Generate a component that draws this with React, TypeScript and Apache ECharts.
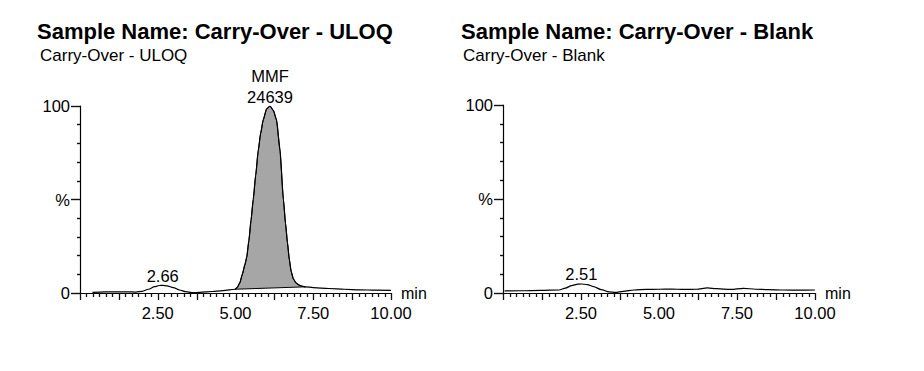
import React, { useEffect, useRef } from "react";
import * as echarts from "echarts";

// ---- data ----
const titles = ["Sample Name: Carry-Over - ULOQ", "Sample Name: Carry-Over - Blank"];
const subtitles = ["Carry-Over - ULOQ", "Carry-Over - Blank"];

// retention time (min), relative intensity (%)
const leftTrace: [number, number][] = [
  [0.4, 0.3], [0.8, 0.6], [1.2, 0.6], [1.5, 0.6], [1.8, 0.5], [2.0, 0.9],
  [2.2, 2.0], [2.4, 3.4], [2.55, 4.0], [2.66, 4.1], [2.8, 3.8], [3.0, 2.9],
  [3.2, 1.6], [3.4, 0.7], [3.6, 0.2], [3.85, 0.3], [4.25, 0.8], [4.6, 1.3],
  [4.98, 2.0], [5.06, 3.0], [5.14, 5.5], [5.22, 10], [5.3, 15], [5.36, 19],
  [5.43, 28], [5.5, 39], [5.57, 50], [5.65, 63], [5.73, 76], [5.81, 85.5],
  [5.89, 92.5], [6.0, 98.5], [6.11, 100], [6.22, 97.5], [6.32, 92.5],
  [6.43, 76.5], [6.54, 50], [6.61, 37], [6.67, 27], [6.73, 18], [6.79, 11.5],
  [6.86, 7.5], [6.95, 5.3], [7.05, 4.2], [7.15, 3.6], [7.25, 3.3], [7.5, 2.9],
  [8.0, 2.4], [8.5, 2.0], [9.0, 1.7], [9.5, 1.5], [10.0, 1.4],
];
const leftPeakWindow: [number, number] = [4.98, 7.25];

const rightTrace: [number, number][] = [
  [0.05, 1.1], [0.6, 1.2], [1.2, 1.4], [1.8, 1.6], [2.0, 2.6], [2.2, 3.9],
  [2.4, 4.7], [2.51, 4.8], [2.7, 4.5], [2.9, 3.4], [3.15, 1.8], [3.4, 0.6],
  [3.6, 0.3], [3.85, 0.9], [4.2, 1.6], [4.6, 1.9], [5.0, 2.0], [5.4, 2.1],
  [5.8, 1.9], [6.2, 2.0], [6.55, 2.7], [6.85, 2.3], [7.3, 1.9], [7.7, 2.5],
  [8.1, 2.0], [8.5, 1.8], [9.0, 1.6], [9.5, 1.5], [10.0, 1.6],
];

const leftPeakLabels = [
  { name: "2.66", t: 2.66, v: 4.1 },
  { name: "MMF\n24639", t: 6.11, v: 100 },
];
const rightPeakLabels = [{ name: "2.51", t: 2.51, v: 4.8 }];

const xMin = 0;
const xMax = 10;
const xMajorStep = 1.25;
const xMinorSplit = 6;
const xLabelValues = [2.5, 5, 7.5, 10];
const xLabelTexts = ["2.50", "5.00", "7.50", "10.00"];
const yLabelValues = [0, 50, 100];
const yLabelTexts = ["0", "%", "100"];
const xUnit = "min";

const FONT = "'Liberation Sans', Arial, Helvetica, sans-serif";

function xFormatter(v: number) {
  const i = xLabelValues.findIndex((x) => Math.abs(x - v) < 1e-6);
  return i >= 0 ? xLabelTexts[i] : "";
}
function yFormatter(v: number) {
  const i = yLabelValues.findIndex((x) => Math.abs(x - v) < 1e-6);
  return i >= 0 ? yLabelTexts[i] : "";
}

// tick positions of the x axis (axis geometry, from the axis settings above)
function buildXTicks(): [number, number][] {
  const n = Math.round((xMax - xMin) / xMajorStep) * xMinorSplit;
  const out: [number, number][] = [];
  for (let i = 0; i <= n; i++) {
    out.push([xMin + (i * xMajorStep) / xMinorSplit, i % xMinorSplit === 0 ? 1 : 0]);
  }
  return out;
}

export default function App() {
  const ref = useRef<HTMLDivElement>(null);

  useEffect(() => {
    document.body.style.margin = "0";
    if (!ref.current) return;
    const chart = echarts.init(ref.current, undefined, { renderer: "svg" });

    const grids = [
      { left: 80, top: 106, width: 311, height: 187 },
      { left: 503, top: 105, width: 312, height: 188 },
    ];

    const mkX = (gi: number) => ({
      type: "value",
      gridIndex: gi,
      min: xMin,
      max: xMax,
      interval: xMajorStep,
      name: xUnit,
      nameLocation: "end",
      nameGap: 10,
      nameTextStyle: { color: "#000", fontSize: 16, fontFamily: FONT },
      axisLine: { show: true, lineStyle: { color: "#000", width: 1.2 } },
      axisTick: { show: false },
      axisLabel: {
        formatter: xFormatter,
        color: "#000",
        fontSize: 16.5,
        fontFamily: FONT,
        margin: 11,
      },
      splitLine: { show: false },
    });

    const mkY = (gi: number) => ({
      type: "value",
      gridIndex: gi,
      min: 0,
      max: 100,
      interval: 50,
      axisLine: { show: true, lineStyle: { color: "#000", width: 1.2 } },
      axisTick: { show: true, length: 9, lineStyle: { color: "#111", width: 1.4 } },
      minorTick: { show: true, splitNumber: 5, length: 3, lineStyle: { color: "#111", width: 1.4 } },
      axisLabel: {
        formatter: yFormatter,
        color: "#000",
        fontSize: 16.5,
        fontFamily: FONT,
        margin: 10,
      },
      splitLine: { show: false },
    });

    const traceSeries = (gi: number, data: [number, number][]) => ({
      type: "line",
      xAxisIndex: gi,
      yAxisIndex: gi,
      data,
      symbol: "none",
      smooth: 0.3,
      smoothMonotone: "x",
      lineStyle: { color: "#000", width: 1.2 },
      z: 4,
      silent: true,
    });

    const labelSeries = (gi: number, labels: { name: string; t: number; v: number }[]) => ({
      type: "scatter",
      xAxisIndex: gi,
      yAxisIndex: gi,
      symbolSize: 0,
      itemStyle: { opacity: 1 },
      data: labels.map((l) => ({ name: l.name, value: [l.t, l.v] })),
      label: {
        show: true,
        position: "top",
        distance: -1,
        formatter: (p: any) => p.name,
        color: "#000",
        opacity: 1,
        fontSize: 16.5,
        lineHeight: 21,
        fontFamily: FONT,
      },
      z: 5,
      silent: true,
    });

    const xTicks = buildXTicks();
    const tickSeries = (gi: number) => ({
      type: "custom",
      xAxisIndex: gi,
      yAxisIndex: gi,
      data: xTicks,
      clip: false,
      silent: true,
      z: 10,
      renderItem: (_params: any, api: any) => {
        const p = api.coord([api.value(0), 0]);
        const x = Math.round(p[0]) + 0.5;
        const y = p[1];
        const len = api.value(1) ? 7 : 4;
        return {
          type: "line",
          shape: { x1: x, y1: y, x2: x, y2: y + len },
          style: { stroke: "#111", lineWidth: 1.3 },
        };
      },
    });

    const peakPoints = leftTrace.filter(
      ([t]) => t >= leftPeakWindow[0] - 1e-9 && t <= leftPeakWindow[1] + 1e-9
    );

    const fillSeries = {
      type: "custom",
      xAxisIndex: 0,
      yAxisIndex: 0,
      data: [[peakPoints[0][0], peakPoints[0][1]]],
      silent: true,
      z: 2,
      renderItem: (_params: any, api: any) => {
        const pts = peakPoints.map(([t, v]) => api.coord([t, v]));
        return {
          type: "polygon",
          shape: { points: pts },
          style: { fill: "#a6a6a6", stroke: "#000", lineWidth: 1 },
        };
      },
    };

    const titleLefts = [37, 461];
    const subLefts = [40, 463];

    chart.setOption({
      animation: false,
      title: [
        ...titles.map((t, i) => ({
          text: t,
          left: titleLefts[i],
          top: 20,
          padding: 0,
          textStyle: { color: "#000", fontSize: 22, fontWeight: "bold", fontFamily: FONT, lineHeight: 22 },
        })),
        ...subtitles.map((t, i) => ({
          text: t,
          left: subLefts[i],
          top: 46.5,
          padding: 0,
          textStyle: { color: "#000", fontSize: 17, fontWeight: "normal", fontFamily: FONT, lineHeight: 17 },
        })),
      ],
      grid: grids,
      xAxis: [mkX(0), mkX(1)],
      yAxis: [mkY(0), mkY(1)],
      series: [
        fillSeries,
        traceSeries(0, leftTrace),
        traceSeries(1, rightTrace),
        labelSeries(0, leftPeakLabels),
        labelSeries(1, rightPeakLabels),
        tickSeries(0),
        tickSeries(1),
      ],
    });

    return () => chart.dispose();
  }, []);

  return <div ref={ref} style={{ width: 924, height: 371 }} />;
}
